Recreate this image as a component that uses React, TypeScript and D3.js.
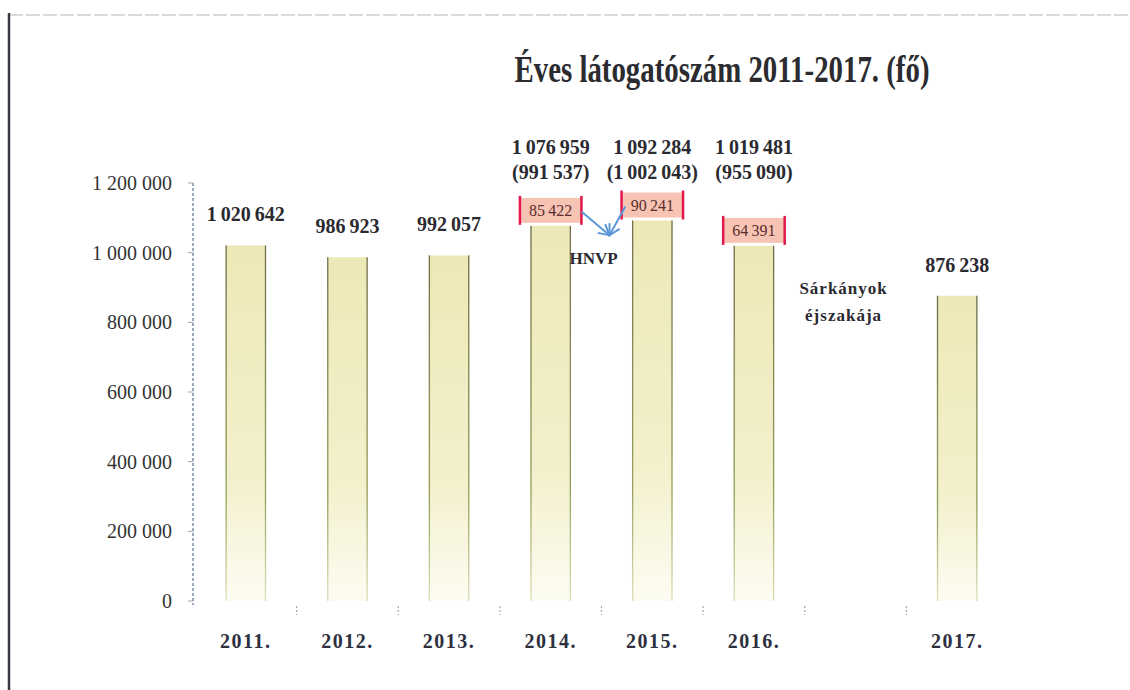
import * as d3 from "d3";
import { useEffect, useRef } from "react";

const W = 1130;
const H = 690;

// chart data
const categories = ["2011.", "2012.", "2013.", "2014.", "2015.", "2016.", "", "2017."];
const visitors = [1020642, 986923, 992057, 1076959, 1092284, 1019481, null, 876238];
const baseVisitors = [null, null, null, 991537, 1002043, 955090, null, null];
const hnvpVisitors = [null, null, null, 85422, 90241, 64391, null, null];
const yTicks = [0, 200000, 400000, 600000, 800000, 1000000, 1200000];
const title = "Éves látogatószám 2011-2017. (fő)";
const hnvpLabel = "HNVP";
const dragonLabel = ["Sárkányok", "éjszakája"];

const serif = "'Liberation Serif', 'Times New Roman', serif";
const fmt = (v: number) => d3.format(",")(v).replace(/,/g, " ");
const fmtThin = (v: number) => d3.format(",")(v).replace(/,/g, "\u2009");

export default function App() {
  const svgRef = useRef<SVGSVGElement>(null);

  useEffect(() => {
    const svg = d3.select(svgRef.current);
    svg.selectAll("*").remove();

    const x = d3
      .scaleBand<string>()
      .domain(categories)
      .range([195, 1008])
      .paddingInner(0.6)
      .paddingOuter(0.3);
    const y = d3.scaleLinear().domain([0, 1200000]).range([601, 183]);
    const bw = x.bandwidth();
    const cx = (i: number) => (x(categories[i]) as number) + bw / 2;

    const defs = svg.append("defs");
    const grad = defs
      .append("linearGradient")
      .attr("id", "barFill")
      .attr("x1", 0)
      .attr("y1", 0)
      .attr("x2", 0)
      .attr("y2", 1);
    grad.append("stop").attr("offset", "0%").attr("stop-color", "#ede9b6");
    grad.append("stop").attr("offset", "65%").attr("stop-color", "#f3f0cc");
    grad.append("stop").attr("offset", "100%").attr("stop-color", "#fdfcf2");

    const edgeGrad = defs
      .append("linearGradient")
      .attr("id", "edgeFill")
      .attr("x1", 0)
      .attr("y1", 0)
      .attr("x2", 0)
      .attr("y2", 1);
    edgeGrad.append("stop").attr("offset", "0%").attr("stop-color", "#6f7050");
    edgeGrad.append("stop").attr("offset", "70%").attr("stop-color", "#95a05e");
    edgeGrad.append("stop").attr("offset", "100%").attr("stop-color", "#dde0b8");

    // page frame
    svg
      .append("line")
      .attr("x1", 9)
      .attr("x2", W)
      .attr("y1", 15)
      .attr("y2", 15)
      .attr("stroke", "#d0d0d0")
      .attr("stroke-width", 1.5)
      .attr("stroke-dasharray", "14,3");
    svg
      .append("line")
      .attr("x1", 9)
      .attr("x2", 9)
      .attr("y1", 13)
      .attr("y2", H)
      .attr("stroke", "#3a3a44")
      .attr("stroke-width", 2.5);

    // title
    svg
      .append("text")
      .attr("x", 722)
      .attr("y", 82)
      .attr("text-anchor", "middle")
      .attr("textLength", 415)
      .attr("lengthAdjust", "spacingAndGlyphs")
      .style("font-family", serif)
      .style("font-size", "37px")
      .style("font-weight", "700")
      .style("fill", "#2b2b30")
      .text(title);

    // y axis
    svg
      .append("line")
      .attr("x1", 193)
      .attr("x2", 193)
      .attr("y1", y(1200000))
      .attr("y2", y(0) + 4)
      .attr("stroke", "#7d8aa6")
      .attr("stroke-width", 1.5)
      .attr("stroke-dasharray", "3,2");

    svg
      .append("g")
      .selectAll("text")
      .data(yTicks)
      .join("text")
      .attr("x", 172)
      .attr("y", (d) => y(d))
      .attr("dy", "0.35em")
      .attr("text-anchor", "end")
      .style("font-family", serif)
      .style("font-size", "20px")
      .style("fill", "#333")
      .text((d) => fmt(d));

    svg
      .append("g")
      .selectAll("line")
      .data(yTicks)
      .join("line")
      .attr("x1", 188)
      .attr("x2", 193)
      .attr("y1", (d) => y(d))
      .attr("y2", (d) => y(d))
      .attr("stroke", "#9aa3b5")
      .attr("stroke-width", 1);

    // x axis tick marks (category boundaries)
    const step = x.step();
    svg
      .append("g")
      .selectAll("line")
      .data(categories.slice(0, -1))
      .join("line")
      .attr("x1", (_, i) => cx(i) + step / 2)
      .attr("x2", (_, i) => cx(i) + step / 2)
      .attr("y1", y(0) + 5)
      .attr("y2", y(0) + 14)
      .attr("stroke", "#aaa")
      .attr("stroke-width", 1.2)
      .attr("stroke-dasharray", "2,2");

    // bars
    const barData = categories
      .map((c, i) => ({ c, i, v: visitors[i] }))
      .filter((d) => d.v !== null) as { c: string; i: number; v: number }[];

    const bars = svg.append("g");
    bars
      .selectAll("rect")
      .data(barData)
      .join("rect")
      .attr("x", (d) => x(d.c) as number)
      .attr("y", (d) => y(d.v))
      .attr("width", bw)
      .attr("height", (d) => y(0) - y(d.v))
      .attr("fill", "url(#barFill)");
    ["left", "right"].forEach((side) => {
      bars
        .append("g")
        .selectAll("rect")
        .data(barData)
        .join("rect")
        .attr("x", (d) => (x(d.c) as number) + (side === "left" ? 0 : bw - 1.3))
        .attr("y", (d) => y(d.v))
        .attr("width", 1.3)
        .attr("height", (d) => y(0) - y(d.v))
        .attr("fill", "url(#edgeFill)");
    });

    // value labels on plain bars
    svg
      .append("g")
      .selectAll("text")
      .data(barData.filter((d) => hnvpVisitors[d.i] === null))
      .join("text")
      .attr("x", (d) => cx(d.i))
      .attr("y", (d) => y(d.v) - 24)
      .attr("text-anchor", "middle")
      .style("font-family", serif)
      .style("font-size", "20px")
      .style("font-weight", "700")
      .style("fill", "#2a2a30")
      .text((d) => fmtThin(d.v));

    // split labels: total + (without HNVP), and the HNVP box
    const split = barData.filter((d) => hnvpVisitors[d.i] !== null);
    const splitLabels = svg.append("g");
    splitLabels
      .selectAll("text.total")
      .data(split)
      .join("text")
      .attr("class", "total")
      .attr("x", (d) => cx(d.i))
      .attr("y", y(1300000) + 6)
      .attr("text-anchor", "middle")
      .style("font-family", serif)
      .style("font-size", "20px")
      .style("font-weight", "700")
      .style("fill", "#2a2a30")
      .text((d) => fmtThin(d.v));
    splitLabels
      .selectAll("text.base")
      .data(split)
      .join("text")
      .attr("class", "base")
      .attr("x", (d) => cx(d.i))
      .attr("y", y(1230000) + 6)
      .attr("text-anchor", "middle")
      .style("font-family", serif)
      .style("font-size", "20px")
      .style("font-weight", "700")
      .style("fill", "#2a2a30")
      .text((d) => `(${fmtThin(baseVisitors[d.i] as number)})`);

    const boxW = 62;
    const boxH = 25;
    const boxes = svg
      .append("g")
      .selectAll("g")
      .data(split)
      .join("g")
      .attr(
        "transform",
        (d) => `translate(${cx(d.i) - boxW / 2},${y(d.v) - boxH - 3})`,
      );
    boxes
      .append("rect")
      .attr("width", boxW)
      .attr("height", boxH)
      .attr("fill", "#f7c4b4");
    boxes
      .append("rect")
      .attr("x", -1)
      .attr("y", -2)
      .attr("width", 2.5)
      .attr("height", boxH + 4)
      .attr("fill", "#e2184c");
    boxes
      .append("rect")
      .attr("x", boxW - 1.5)
      .attr("y", -2)
      .attr("width", 2.5)
      .attr("height", boxH + 4)
      .attr("fill", "#e2184c");
    boxes
      .append("text")
      .attr("x", boxW / 2)
      .attr("y", boxH / 2)
      .attr("dy", "0.35em")
      .attr("text-anchor", "middle")
      .style("font-family", serif)
      .style("font-size", "16px")
      .style("fill", "#5a2c2c")
      .text((d) => fmtThin(hnvpVisitors[d.i] as number));

    // HNVP arrows
    const mid = (cx(3) + cx(4)) / 2;
    const tip: [number, number] = [mid + 8, y(1050000)];
    const arrows = svg.append("g").attr("stroke", "#5b96d8").attr("fill", "none");
    const fromA: [number, number] = [cx(3) + boxW / 2, y(visitors[3] as number) - 14];
    const fromB: [number, number] = [cx(4) - boxW / 2 + 4, y(visitors[4] as number) - 14];
    [fromA, fromB].forEach((from) => {
      arrows
        .append("line")
        .attr("x1", from[0])
        .attr("y1", from[1])
        .attr("x2", tip[0])
        .attr("y2", tip[1])
        .attr("stroke-width", 2);
      const ang = Math.atan2(tip[1] - from[1], tip[0] - from[0]);
      const len = 12;
      const spread = 0.5;
      const head = d3.path();
      head.moveTo(tip[0] - len * Math.cos(ang - spread), tip[1] - len * Math.sin(ang - spread));
      head.lineTo(tip[0], tip[1]);
      head.lineTo(tip[0] - len * Math.cos(ang + spread), tip[1] - len * Math.sin(ang + spread));
      arrows.append("path").attr("d", head.toString()).attr("stroke-width", 2);
    });

    svg
      .append("text")
      .attr("x", mid - 8)
      .attr("y", y(1000000) + 11)
      .attr("text-anchor", "middle")
      .style("font-family", serif)
      .style("font-size", "17px")
      .style("font-weight", "700")
      .style("fill", "#2a2a30")
      .text(hnvpLabel);

    // Sárkányok éjszakája note in the empty slot
    svg
      .append("g")
      .selectAll("text")
      .data(dragonLabel)
      .join("text")
      .attr("x", cx(6) - 12)
      .attr("y", (_, i) => y(880000) + i * 27)
      .attr("text-anchor", "middle")
      .style("font-family", serif)
      .style("font-size", "17px")
      .style("font-weight", "700")
      .style("letter-spacing", "1px")
      .style("fill", "#2a2a30")
      .text((d) => d);

    // year labels
    svg
      .append("g")
      .selectAll("text")
      .data(categories)
      .join("text")
      .attr("x", (_, i) => cx(i))
      .attr("y", 648)
      .attr("text-anchor", "middle")
      .style("font-family", serif)
      .style("font-size", "20px")
      .style("font-weight", "700")
      .style("letter-spacing", "1.5px")
      .style("fill", "#2e3040")
      .text((d) => d);
  }, []);

  return (
    <svg
      ref={svgRef}
      width={W}
      height={H}
      style={{ position: "absolute", left: 0, top: 0, background: "#fff" }}
    />
  );
}
